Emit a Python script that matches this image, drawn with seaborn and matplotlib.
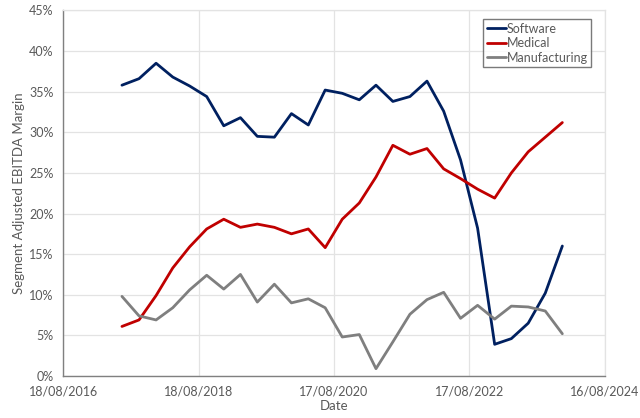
import matplotlib
matplotlib.use("Agg")
import matplotlib.pyplot as plt
import matplotlib.dates as mdates
from matplotlib.ticker import PercentFormatter, MultipleLocator
import seaborn as sns
import pandas as pd

dates = ["2017-06-30", "2017-09-30", "2017-12-31", "2018-03-31", "2018-06-30",
         "2018-09-30", "2018-12-31", "2019-03-31", "2019-06-30", "2019-09-30",
         "2019-12-31", "2020-03-31", "2020-06-30", "2020-09-30", "2020-12-31",
         "2021-03-31", "2021-06-30", "2021-09-30", "2021-12-31", "2022-03-31",
         "2022-06-30", "2022-09-30", "2022-12-31", "2023-03-31", "2023-06-30",
         "2023-09-30", "2023-12-31"]

software = [35.8, 36.6, 38.5, 36.8, 35.7, 34.4, 30.8, 31.8, 29.5, 29.4,
            32.3, 30.9, 35.2, 34.8, 34.0, 35.8, 33.8, 34.4, 36.3, 32.6,
            26.6, 18.2, 3.9, 4.6, 6.5, 10.2, 16.0]
medical = [6.1, 6.9, 9.9, 13.3, 15.9, 18.1, 19.3, 18.3, 18.7, 18.3,
           17.5, 18.1, 15.8, 19.3, 21.3, 24.5, 28.4, 27.3, 28.0, 25.5,
           24.3, 23.0, 21.9, 25.0, 27.6, 29.4, 31.2]
manufacturing = [9.8, 7.4, 6.9, 8.4, 10.6, 12.4, 10.7, 12.5, 9.1, 11.3,
                 9.0, 9.5, 8.4, 4.8, 5.1, 0.9, 4.2, 7.6, 9.4, 10.3,
                 7.1, 8.7, 7.0, 8.6, 8.5, 8.0, 5.2]

series_names = ["Software", "Medical", "Manufacturing"]
colors = ["#002060", "#C00000", "#7F7F7F"]
xtick_dates = ["2016-08-18", "2018-08-18", "2020-08-17", "2022-08-17", "2024-08-16"]

d = pd.to_datetime(dates)
df = pd.concat([
    pd.DataFrame({"Date": d, "Margin": software, "Segment": "Software"}),
    pd.DataFrame({"Date": d, "Margin": medical, "Segment": "Medical"}),
    pd.DataFrame({"Date": d, "Margin": manufacturing, "Segment": "Manufacturing"}),
])

sns.set_theme(style="white")
plt.rcParams["font.family"] = ["Lato", "DejaVu Sans"]

fig = plt.figure(figsize=(6.4, 4.18), dpi=100)
ax = fig.add_axes([0.099, 0.1005, 0.846, 0.8745])

sns.lineplot(data=df, x="Date", y="Margin", hue="Segment", hue_order=series_names,
             palette=colors, linewidth=2.0, ax=ax)

xt = pd.to_datetime(xtick_dates)
ax.set_xlim(xt[0], xt[-1])
ax.set_xticks(xt)
ax.xaxis.set_major_formatter(mdates.DateFormatter("%d/%m/%Y"))
ax.set_ylim(0, 45)
ax.yaxis.set_major_locator(MultipleLocator(5))
ax.yaxis.set_major_formatter(PercentFormatter(decimals=0))

ax.grid(True, color="#E3E3E3", linewidth=0.9)
ax.set_axisbelow(True)
for s in ["top", "right"]:
    ax.spines[s].set_color("#E3E3E3")
    ax.spines[s].set_linewidth(0.9)
for s in ["left", "bottom"]:
    ax.spines[s].set_color("#808080")
    ax.spines[s].set_linewidth(1.0)

ax.tick_params(axis="both", which="major", length=4, width=1.0, color="#808080",
               labelsize=9, labelcolor="#595959", direction="out")
ax.tick_params(axis="x", pad=3)
ax.tick_params(axis="y", pad=3)
ax.set_xlabel("Date", fontsize=9.5, color="#595959", labelpad=2)
ax.set_ylabel("Segment Adjusted EBITDA Margin", fontsize=9.5, color="#595959", labelpad=3)

leg = ax.legend(loc="upper right", bbox_to_anchor=(0.975, 0.977), frameon=True,
                fancybox=False, edgecolor="#595959", fontsize=9, handlelength=1.5,
                handletextpad=0.05, borderpad=0.3, labelspacing=0.2, borderaxespad=0)
leg.get_frame().set_linewidth(1.0)
for t in leg.get_texts():
    t.set_color("#595959")

fig.savefig("out.png", dpi=100)
